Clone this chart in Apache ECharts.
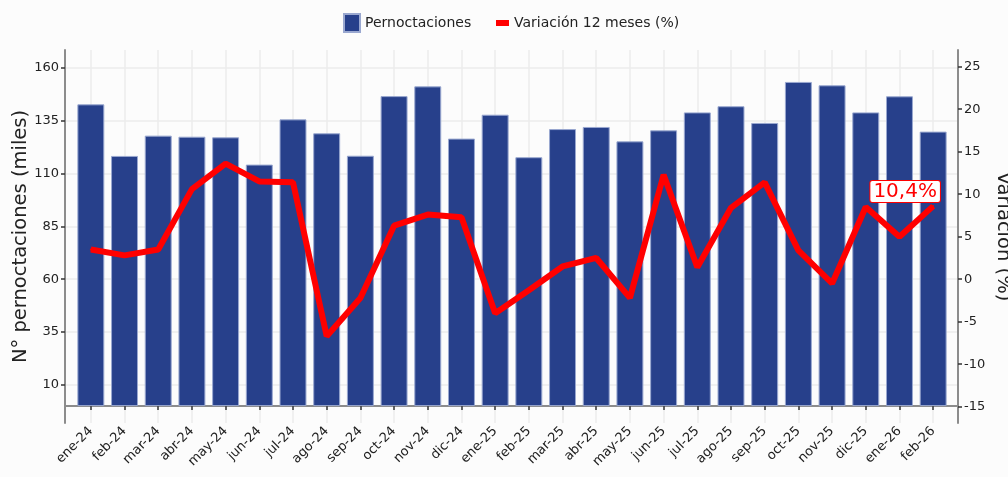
<!DOCTYPE html>
<html>
<head>
<meta charset="utf-8">
<script src="https://cdn.jsdelivr.net/npm/echarts@6/dist/echarts.min.js"></script>
<style>
    html, body { margin: 0; padding: 0; background: #fcfcfc; }
    #chart { width: 1008px; height: 477px; }
</style>
</head>
<body>
<div id="chart"></div>
<script>
// datos
const meses = ['ene-24', 'feb-24', 'mar-24', 'abr-24', 'may-24', 'jun-24', 'jul-24', 'ago-24', 'sep-24', 'oct-24', 'nov-24', 'dic-24',
    'ene-25', 'feb-25', 'mar-25', 'abr-25', 'may-25', 'jun-25', 'jul-25', 'ago-25', 'sep-25', 'oct-25', 'nov-25', 'dic-25',
    'ene-26', 'feb-26'];
const pernoctaciones = [142.7, 118.3, 127.9, 127.4, 127.1, 114.2, 135.6, 129.0, 118.4, 146.6, 151.2, 126.5,
    137.8, 117.7, 131.0, 132.0, 125.2, 130.4, 138.9, 141.8, 133.9, 153.3, 151.7, 138.9, 146.5, 129.8];
const variacion = [3.5, 2.8, 3.5, 10.6, 13.6, 11.5, 11.4, -6.7, -2.2, 6.3, 7.6, 7.3,
    -4.0, -1.3, 1.5, 2.5, -2.2, 12.3, 1.4, 8.4, 11.4, 3.4, -0.5, 8.5, 5.0, 8.6];
const ticksIzq = [10, 35, 60, 85, 110, 135, 160];
const ticksDer = [-15, -10, -5, 0, 5, 10, 15, 20, 25];
const etiquetaUltimo = '10,4%';

const fuente = 'DejaVu Sans';
const rangoIzq = [-8, 168.4];
const rangoDer = [-16.92, 26.97];

let chart = echarts.init(document.getElementById('chart'));
let ultimo = variacion.length - 1;

let option = {
    backgroundColor: '#fcfcfc',
    textStyle: { fontFamily: fuente },
    legend: [
        {
            data: ['Pernoctaciones'],
            left: 343, top: 13,
            padding: 0,
            itemGap: 6,
            itemWidth: 16, itemHeight: 18,
            icon: 'rect',
            textStyle: { fontFamily: fuente, fontSize: 14, color: '#222' }
        },
        {
            data: [{ name: 'Variación 12 meses (%)', icon: 'rect' }],
            left: 496, top: 16,
            padding: 0,
            itemWidth: 13, itemHeight: 6,
            textStyle: { fontFamily: fuente, fontSize: 14, color: '#222' }
        }
    ],
    grid: [
        // grid de las barras (con margen interior como en el original)
        { left: 74, right: 58, top: 50, bottom: 54, outerBoundsMode: 'none' },
        // grid del marco y los ejes
        { left: 65, right: 50, top: 50, bottom: 54, outerBoundsMode: 'none' }
    ],
    xAxis: [
        {
            type: 'category',
            gridIndex: 0,
            data: meses,
            axisLine: { show: false },
            axisTick: { show: true, alignWithLabel: true, interval: 0, length: 4, lineStyle: { color: '#333', width: 1.5 } },
            axisLabel: { interval: 0, rotate: 45, fontSize: 13, color: '#222', margin: 6, fontFamily: fuente },
            splitLine: { show: true, alignWithLabel: true, interval: 0, lineStyle: { color: '#ececec', width: 1.5 } }
        },
        {
            type: 'value',
            gridIndex: 1,
            min: 0, max: 1,
            axisLine: { show: true, lineStyle: { color: '#8c8c8c', width: 2 } },
            axisTick: { show: false },
            axisLabel: { show: false },
            splitLine: { show: false }
        }
    ],
    yAxis: [
        {
            type: 'value',
            gridIndex: 1,
            position: 'left',
            min: rangoIzq[0], max: rangoIzq[1],
            name: 'N° pernoctaciones (miles)',
            nameLocation: 'middle',
            nameRotate: 90,
            nameGap: 34,
            nameMoveOverlap: false,
            nameTextStyle: { fontFamily: fuente, fontSize: 19.5, color: '#222' },
            axisLine: { show: true, lineStyle: { color: '#8c8c8c', width: 2 } },
            axisTick: { show: true, customValues: ticksIzq, length: 4, lineStyle: { color: '#333', width: 1.5 } },
            axisLabel: { customValues: ticksIzq, fontSize: 13, color: '#222', margin: 6, fontFamily: fuente },
            splitLine: { show: true, lineStyle: { color: '#ececec', width: 1.5 } }
        },
        {
            type: 'value',
            gridIndex: 1,
            position: 'right',
            min: rangoDer[0], max: rangoDer[1],
            name: 'Variación (%)',
            nameLocation: 'middle',
            nameRotate: -90,
            nameGap: 35,
            nameMoveOverlap: false,
            nameTextStyle: { fontFamily: fuente, fontSize: 19.5, color: '#222' },
            axisLine: { show: true, lineStyle: { color: '#8c8c8c', width: 2 } },
            axisTick: { show: true, customValues: ticksDer, length: 4, lineStyle: { color: '#333', width: 1.5 } },
            axisLabel: { customValues: ticksDer, fontSize: 13, color: '#222', margin: 6, fontFamily: fuente },
            splitLine: { show: false }
        },
        { type: 'value', gridIndex: 0, show: false, min: rangoIzq[0], max: rangoIzq[1], splitLine: { show: false } },
        { type: 'value', gridIndex: 0, show: false, min: rangoDer[0], max: rangoDer[1], splitLine: { show: false } }
    ],
    series: [
        {
            name: 'Pernoctaciones',
            type: 'bar',
            xAxisIndex: 0,
            yAxisIndex: 2,
            barWidth: '80%',
            data: pernoctaciones,
            itemStyle: { color: '#27408b', borderColor: '#9aa8d0', borderWidth: 1 }
        },
        {
            name: 'Variación 12 meses (%)',
            type: 'line',
            xAxisIndex: 0,
            yAxisIndex: 3,
            symbol: 'circle',
            symbolSize: 2,
            showSymbol: true,
            color: '#ff0000',
            itemStyle: { color: '#ff0000' },
            lineStyle: { color: '#ff0000', width: 6 },
            z: 5,
            data: variacion.map(function (v, i) {
                if (i !== ultimo) return v;
                return {
                    value: v,
                    label: {
                        show: true,
                        position: 'top',
                        distance: 3,
                        offset: [-28, 0],
                        formatter: etiquetaUltimo,
                        fontFamily: fuente,
                        fontSize: 20,
                        color: '#ff0000',
                        backgroundColor: '#ffffff',
                        borderColor: '#ff0000',
                        borderWidth: 1,
                        borderRadius: 2,
                        padding: [1, 3, 0, 3]
                    }
                };
            })
        }
    ]
};
chart.setOption(option);
</script>
</body>
</html>
